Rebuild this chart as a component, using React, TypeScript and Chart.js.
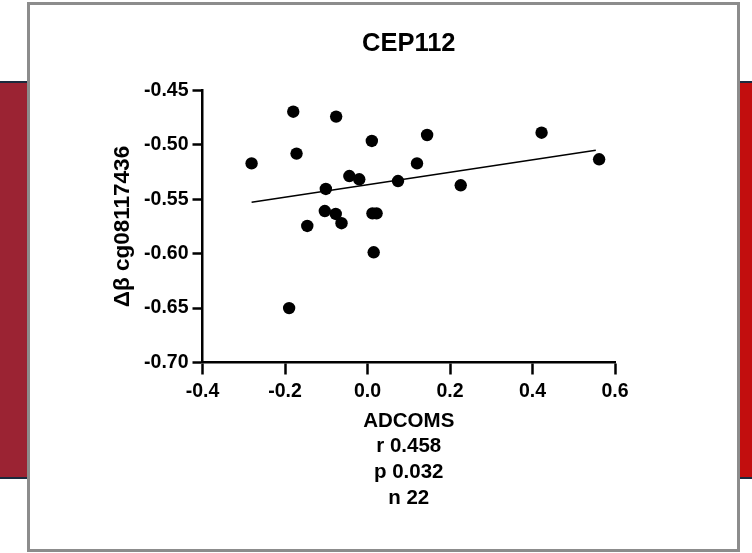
import { useEffect, useRef } from 'react';
import { Chart, registerables } from 'chart.js';

Chart.register(...registerables);

// ---- data ----
const chartTitle = 'CEP112';
const yAxisTitle = 'Δβ cg08117436';
const xAxisTitleLines = ['ADCOMS', 'r 0.458', 'p 0.032', 'n 22'];

const adcoms = [
  -0.281, -0.180, -0.172, -0.076, 0.0105, -0.044, -0.020, -0.101, -0.1035, -0.077, -0.063,
  -0.146, 0.012, 0.022, 0.015, -0.190, 0.1445, 0.120, 0.074, 0.226, 0.422, 0.5615,
];
const deltaBeta = [
  -0.517, -0.4695, -0.508, -0.474, -0.4964, -0.5286, -0.5316, -0.5405, -0.5608, -0.5635, -0.572,
  -0.5745, -0.5629, -0.5629, -0.5987, -0.650, -0.4909, -0.517, -0.5332, -0.5371, -0.4888, -0.5132,
];
const fitLineX = [-0.281, 0.5535];
const fitLineY = [-0.5527, -0.505];

const xTickValues = [-0.4, -0.2, 0.0, 0.2, 0.4, 0.6];
const yTickValues = [-0.70, -0.65, -0.60, -0.55, -0.50, -0.45];

// ---- styling ----
const FONT = "'Liberation Sans', Arial, sans-serif";

export default function App() {
  const ref = useRef<HTMLCanvasElement | null>(null);

  useEffect(() => {
    if (!ref.current) return;
    const points = adcoms.map((x, i) => ({ x, y: deltaBeta[i] }));
    const fit = fitLineX.map((x, i) => ({ x, y: fitLineY[i] }));

    const chart = new Chart(ref.current, {
      type: 'scatter',
      data: {
        datasets: [
          {
            type: 'line',
            data: fit,
            borderColor: '#000',
            borderWidth: 1.5,
            pointRadius: 0,
            fill: false,
            showLine: true,
          } as any,
          {
            type: 'scatter',
            data: points,
            backgroundColor: '#000',
            borderWidth: 0,
            pointRadius: 6.2,
            pointHoverRadius: 6.2,
          },
        ],
      },
      options: {
        responsive: false,
        maintainAspectRatio: false,
        animation: false,
        devicePixelRatio: 1,
        layout: { padding: { left: 109, right: 137, top: 28.7, bottom: 42.15 } },
        plugins: {
          legend: { display: false },
          tooltip: { enabled: false },
          title: {
            display: true,
            text: chartTitle,
            color: '#000',
            fullSize: false,
            font: { family: FONT, size: 25.5, weight: 'bold', lineHeight: 1.2 },
            padding: { top: 0, bottom: 31.2 },
          },
        },
        scales: {
          x: {
            type: 'linear',
            min: -0.4,
            max: 0.6,
            afterBuildTicks: (s: any) => {
              s.ticks = xTickValues.map((v) => ({ value: v }));
            },
            afterFit: (s: any) => {
              s.height = 148.35;
            },
            ticks: {
              color: '#000',
              padding: 5.8,
              autoSkip: false,
              maxRotation: 0,
              font: { family: FONT, size: 19.5, weight: 'bold', lineHeight: 1.2 },
              callback: (v: any) => (Math.abs(Number(v)) < 1e-9 ? '0.0' : Number(v).toFixed(1)),
            },
            grid: {
              display: true,
              drawOnChartArea: false,
              drawTicks: true,
              tickLength: 12,
              tickWidth: 2.5,
              tickColor: '#000',
            },
            border: { display: true, color: '#000', width: 2.5 },
            title: {
              display: true,
              text: xAxisTitleLines,
              color: '#000',
              padding: 0,
              font: { family: FONT, size: 20.5, weight: 'bold', lineHeight: 1.254 },
            },
          },
          y: {
            type: 'linear',
            min: -0.7,
            max: -0.45,
            afterBuildTicks: (s: any) => {
              s.ticks = yTickValues.map((v) => ({ value: v }));
            },
            afterFit: (s: any) => {
              s.width = 93.5;
            },
            ticks: {
              color: '#000',
              padding: 4,
              autoSkip: false,
              font: { family: FONT, size: 19.5, weight: 'bold', lineHeight: 1.2 },
              callback: (v: any) => Number(v).toFixed(2),
            },
            grid: {
              display: true,
              drawOnChartArea: false,
              drawTicks: true,
              tickLength: 10,
              tickWidth: 2.5,
              tickColor: '#000',
            },
            border: { display: true, color: '#000', width: 2.5 },
            title: {
              display: true,
              text: yAxisTitle,
              color: '#000',
              padding: 0,
              font: { family: FONT, size: 22.5, weight: 'bold', lineHeight: 1.2 },
            },
          },
        },
      },
    });
    return () => chart.destroy();
  }, []);

  return (
    <div
      style={{
        position: 'fixed',
        left: 0,
        top: 0,
        width: 752,
        height: 553,
        background: '#fff',
        overflow: 'hidden',
      }}
    >
      <div
        style={{
          position: 'absolute',
          left: 0,
          top: 81,
          width: 27,
          height: 398,
          boxSizing: 'border-box',
          background: '#9b2333',
          borderTop: '2px solid #1b2a3d',
          borderBottom: '2px solid #1b2a3d',
        }}
      />
      <div
        style={{
          position: 'absolute',
          left: 740,
          top: 81,
          width: 12,
          height: 398,
          boxSizing: 'border-box',
          background: '#c20e0e',
          borderTop: '2px solid #1b2a3d',
          borderBottom: '2px solid #1b2a3d',
        }}
      />
      <div
        style={{
          position: 'absolute',
          left: 27,
          top: 2,
          width: 713,
          height: 550,
          boxSizing: 'border-box',
          background: '#fff',
          border: '3px solid #8c8c8c',
        }}
      />
      <canvas
        ref={ref}
        width={752}
        height={553}
        style={{ position: 'absolute', left: 0, top: 0, width: 752, height: 553 }}
      />
    </div>
  );
}
